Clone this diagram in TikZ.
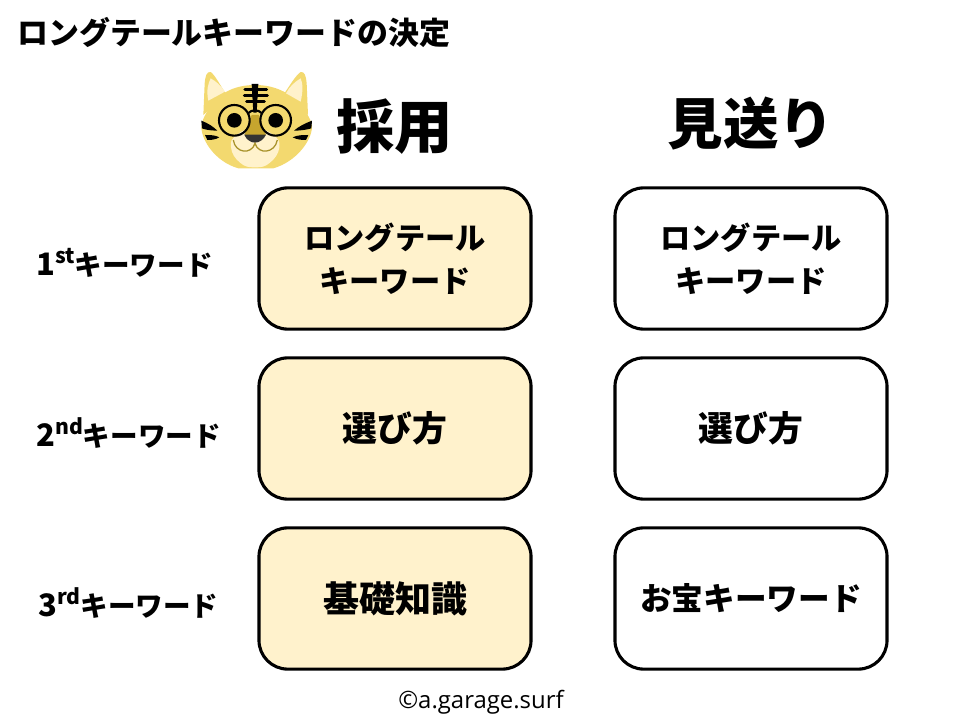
\documentclass[tikz,border=0pt]{standalone}
\usepackage{fontspec}
\setmainfont{Noto Sans CJK JP}
\newfontfamily\footfont{Open Sans}
\definecolor{boxcream}{HTML}{FFF2CC}
\definecolor{tigeryellow}{HTML}{F3D96F}
\definecolor{tigernose}{HTML}{C6A52E}
\definecolor{tigermouth}{HTML}{A8922A}
\newcommand{\ordinal}[2]{\fontsize{22pt}{22pt}\selectfont #1\raisebox{0.38em}{\fontsize{15pt}{15pt}\selectfont #2}\fontsize{19.6pt}{22pt}\selectfont}
\newcommand{\boxsize}[1]{\fontsize{#1}{30.5pt}\selectfont}
\tikzset{
  choice/.style={draw, line width=2.2pt, rounded corners=0.72cm, minimum width=6.8cm, minimum height=3.53cm,
    align=center, font=\fontsize{21.5pt}{30.5pt}\selectfont\bfseries},
  taken/.style={choice, fill=boxcream},
  skipped/.style={choice, fill=white},
  rowlabel/.style={anchor=west, inner sep=0pt, font=\fontsize{19.6pt}{22pt}\selectfont\bfseries},
  heading/.style={inner sep=0pt, font=\fontsize{41.5pt}{44pt}\selectfont\bfseries},
}

\begin{document}
\begin{tikzpicture}[x=0.025cm, y=-0.025cm]
   \useasboundingbox (0,0) rectangle (960,720);

\node[anchor=west, inner sep=0pt, font=\fontsize{22pt}{24pt}\selectfont\bfseries] (title) at (17,33) {ロングテールキーワードの決定};

\node[heading] (adopt) at (394.5,127) {採用};
\node[heading, font=\fontsize{39.5pt}{44pt}\selectfont\bfseries] (pass) at (751,124) {見送り};

\node[rowlabel] (first) at (36,263) {\ordinal{1}{st}キーワード};
\node[rowlabel] (second) at (36,433) {\ordinal{2}{nd}キーワード};
\node[rowlabel] (third) at (38,603) {\ordinal{3}{rd}キーワード};

\node[taken] (a1) at (395,258.5) {ロングテール\\キーワード};
\node[taken] (a2) at (395,428.5) {\boxsize{24.8pt}選び方};
\node[taken] (a3) at (395,598.5) {\boxsize{25.6pt}基礎知識};

\node[skipped] (p1) at (751,258.5) {ロングテール\\キーワード};
\node[skipped] (p2) at (751,428.5) {\boxsize{24.8pt}選び方};
\node[skipped] (p3) at (751,598.5) {\boxsize{22.5pt}お宝キーワード};

\node[font=\fontsize{17pt}{20pt}\selectfont\footfont] (credit) at (481,702) {©a.garage.surf};

% tiger
\begin{scope}[shift={(190,60)}, x=0.00833cm, y=-0.00833cm]
   \fill[tigeryellow] (110,105) .. controls (90,75) and (75,45) .. (62,36) .. controls (50,34) and (46,48) .. (44,70) -- (40,165) -- cycle;
   \fill[tigeryellow] (280,105) .. controls (300,75) and (318,45) .. (332,36) .. controls (344,34) and (348,48) .. (350,70) -- (354,165) -- cycle;
   \fill[tigeryellow] (195,75) .. controls (250,75) and (300,95) .. (335,140) .. controls (355,165) and (366,185) .. (366,200)
      .. controls (366,240) and (320,305) .. (250,325) -- (145,325) .. controls (75,305) and (34,240) .. (34,200)
      .. controls (34,185) and (45,165) .. (60,140) .. controls (90,95) and (140,75) .. (195,75) -- cycle;
   \fill[boxcream] (55,122) .. controls (48,90) and (55,70) .. (62,55) .. controls (80,65) and (95,80) .. (105,95) -- cycle;
   \fill[boxcream] (332,125) .. controls (340,90) and (338,70) .. (332,55) .. controls (315,65) and (298,80) .. (288,100) -- cycle;
   % stripes
   \fill (185,72) -- (205,72) -- (200,158) -- (190,158) -- cycle;
   \draw[line width=2.2pt, line cap=round] (165,88) -- (230,88) (163,106) -- (232,106) (170,125) -- (223,125);
   \fill (34,182) .. controls (55,190) and (70,200) .. (82,212) .. controls (60,212) and (42,208) .. (36,205) -- cycle;
   \fill (45,225) .. controls (60,225) and (75,225) .. (88,232) .. controls (75,240) and (60,240) .. (52,240) -- cycle;
   \fill (366,182) .. controls (345,190) and (325,200) .. (312,212) .. controls (335,212) and (355,208) .. (364,205) -- cycle;
   \fill (355,225) .. controls (340,225) and (322,225) .. (308,232) .. controls (322,240) and (340,240) .. (348,240) -- cycle;
   % muzzle
   \fill[boxcream] plot[smooth cycle, tension=0.8] coordinates {(195,205) (250,225) (268,262) (240,308) (195,322) (150,308) (123,262) (140,225)};
   % nose
   \fill[tigernose] (185,165) -- (206,165) -- (228,226) -- (163,226) -- cycle;
   \fill[black!80] (163,224) -- (228,224) .. controls (222,238) and (208,248) .. (195,248) .. controls (182,248) and (168,238) .. (163,224) -- cycle;
   \draw[tigermouth, line width=0.9pt] (130,240) .. controls (135,280) and (185,285) .. (195,250) .. controls (205,285) and (255,280) .. (262,240);
   % glasses
   \fill (133,181) circle[radius=22];
   \fill (257,181) circle[radius=22];
   \draw[line width=1.5pt] (133,181) circle[radius=46];
   \draw[line width=1.5pt] (257,181) circle[radius=46];
   \draw[line width=1.5pt] (174,160) .. controls (185,148) and (205,148) .. (216,160);
\end{scope}

\end{tikzpicture}
\end{document}
